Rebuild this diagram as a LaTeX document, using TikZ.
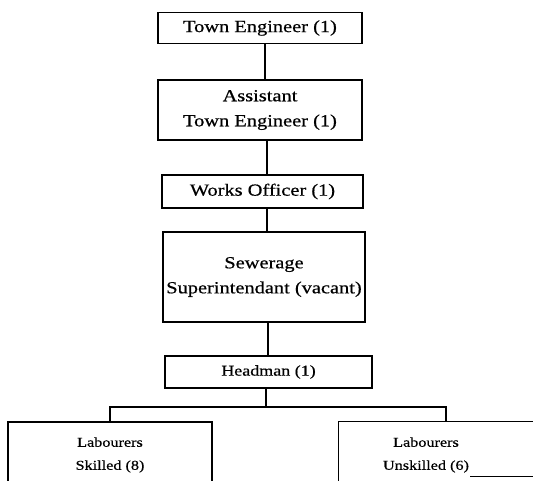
\documentclass[tikz,border=0pt]{standalone}
\usepackage{fontspec}
\setmainfont{Liberation Serif}[FakeStretch=1.2,FakeBold=0.6]
\begin{document}
\begin{tikzpicture}[x=1pt,y=-1pt,
  box/.style={draw,line width=1.4pt,rectangle,inner sep=0pt,align=center},
  big/.style={font=\fontsize{17}{25}\selectfont},
  small/.style={font=\fontsize{13.5}{23}\selectfont},
  conn/.style={line width=1.4pt}]
\fill[white] (0,0) rectangle (533,480);
\useasboundingbox (0,0) rectangle (533,480);
\clip (0,0) rectangle (533,480);
\node[box,big,minimum width=204pt,minimum height=31pt] (te) at (260,28) {Town Engineer (1)};
\node[box,big,minimum width=204pt,minimum height=60pt] (ate) at (260,110) {Assistant\\Town Engineer (1)};
\node[box,big,minimum width=201pt,minimum height=33pt] (wo) at (262.5,191.5) {Works Officer (1)};
\node[box,big,minimum width=202pt,minimum height=90pt] (sew) at (264,277) {Sewerage\\Superintendant (vacant)};
\node[box,font=\fontsize{15}{22}\selectfont,minimum width=207pt,minimum height=32pt] (hm) at (268.5,372) {Headman (1)};
\node[box,small,minimum width=204pt,minimum height=66pt] (ls) at (110,455) {Labourers\\Skilled (8)};
\node[box,small,minimum width=205pt,minimum height=66pt,anchor=north west] (us) at (338,421) {};
\node[small,align=center] (ust) at (426,455) {Labourers\\Unskilled (6)};
\coordinate (c1) at (265,0);
\coordinate (c2) at (267,0);
\coordinate (c3) at (268,0);
\coordinate (hb) at (266,407);
\coordinate (rd) at (446,0);
\draw[conn] (te.south -| c1) -- (ate.north -| c1);
\draw[conn] (ate.south -| c2) -- (wo.north -| c2);
\draw[conn] (wo.south -| c2) -- (sew.north -| c2);
\draw[conn] (sew.south -| c3) -- (hm.north -| c3);
\draw[conn] (hm.south -| hb) -- (hb);
\draw[conn] (ls.north) |- (hb);
\draw[conn] (us.north -| rd) |- (hb);
\coordinate (a1) at (470,476);
\coordinate (a2) at (533,476);
\draw[line width=0.8pt] (a1) -- (a2);
\end{tikzpicture}
\end{document}
